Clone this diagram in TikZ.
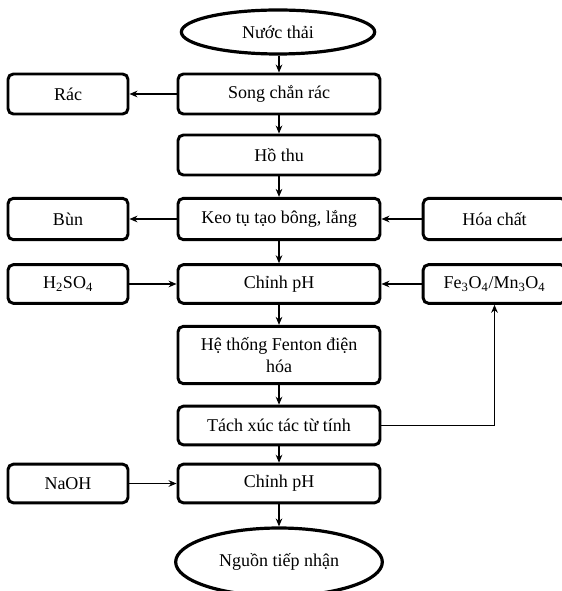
\documentclass[tikz,border=0pt]{standalone}
\usepackage{fontspec}
\setmainfont{Liberation Serif}
\usetikzlibrary{shapes.geometric,arrows.meta}
\begin{document}
\begin{tikzpicture}[x=0.75pt,y=-0.75pt,
  font=\fontsize{13.5}{16}\selectfont,
  box/.style={draw,line width=2.2pt,rounded corners=4pt,inner sep=0pt,minimum width=151.5pt,minimum height=30pt,align=center},
  sidebox/.style={box,minimum width=90pt},
  rbox/.style={box,minimum width=107pt},
  oval/.style={draw,ellipse,line width=2.4pt,inner sep=0pt},
  arr/.style={-{Stealth[length=6pt,width=5pt]},line width=0.8pt}]
\useasboundingbox (0,0) rectangle (561,591);
\node[oval,minimum width=145pt,minimum height=33pt] (src) at (278,32) {Nước thải};
\node[box] (song) at (279,94) {Song chắn rác};
\node[sidebox] (rac) at (68,94) {Rác};
\node[box] (ho) at (279,155) {Hồ thu};
\node[box,minimum height=31pt] (keo) at (279,219) {Keo tụ tạo bông, lắng};
\node[sidebox,minimum height=31pt] (bun) at (68,219) {Bùn};
\node[rbox,minimum height=31pt] (hoa) at (494.5,219) {Hóa chất};
\node[box,minimum height=29pt] (ph1) at (279,284) {Chỉnh pH};
\node[sidebox,minimum height=29pt] (h2) at (68,284) {H\textsubscript{2}SO\textsubscript{4}};
\node[rbox,minimum height=29pt] (fe) at (494.5,284) {Fe\textsubscript{3}O\textsubscript{4}/Mn\textsubscript{3}O\textsubscript{4}};
\node[box,minimum height=43pt] (fen) at (279,355) {Hệ thống Fenton điện\\[1pt]hóa};
\node[box,minimum height=29pt] (tach) at (279,425.5) {Tách xúc tác từ tính};
\node[box,minimum height=29pt] (ph2) at (279,483.5) {Chỉnh pH};
\node[sidebox,minimum height=29pt] (naoh) at (68,483.5) {NaOH};
\node[oval,minimum width=155pt,minimum height=51pt] (dst) at (279,562) {Nguồn tiếp nhận};
\draw[arr] (src.south -| song.north) -- (song.north);
\draw[arr] (song) -- (rac);
\draw[arr] (song) -- (ho);
\draw[arr] (ho) -- (keo);
\draw[arr] (keo) -- (bun);
\draw[arr] (hoa) -- (keo);
\draw[arr] (keo) -- (ph1);
\draw[arr] (h2) -- (ph1);
\draw[arr] (fe) -- (ph1);
\draw[arr] (ph1) -- (fen);
\draw[arr] (fen) -- (tach);
\draw[arr] (tach.east) -| (fe.south);
\draw[arr] (tach) -- (ph2);
\draw[arr] (naoh) -- (ph2);
\draw[arr] (ph2) -- (dst);
\end{tikzpicture}
\end{document}
